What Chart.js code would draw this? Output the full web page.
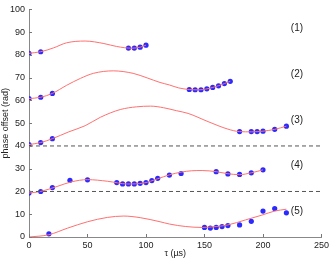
<!DOCTYPE html>
<html>
<head>
<meta charset="utf-8">
<script src="https://cdn.jsdelivr.net/npm/chart.js@4"></script>
<style>
  html, body { margin: 0; padding: 0; background: #fff; }
  #chart { display: block; }
</style>
</head>
<body>
<canvas id="chart" width="332" height="261"></canvas>
<script>
// measured points, one array pair per trace
const tau1 = [0, 10, 85, 90, 95, 100];
const phase1 = [80.7, 81.4, 83.0, 83.0, 83.4, 84.3];
const tau2 = [0, 10, 20, 137, 142, 147, 152, 157, 162, 167, 172];
const phase2 = [60.8, 61.4, 63.1, 64.8, 64.7, 64.7, 65.1, 65.7, 66.4, 67.4, 68.4];
const tau3 = [0, 10, 20, 180, 190, 195, 200, 210, 220];
const phase3 = [40.6, 41.5, 43.2, 46.3, 46.3, 46.3, 46.5, 47.3, 48.7];
const tau4 = [0, 10, 20, 35, 50, 75, 80, 85, 90, 95, 100, 105, 110, 120, 130, 160, 170, 180, 190, 200];
const phase4 = [19.3, 20.0, 21.7, 24.9, 25.1, 23.9, 23.3, 23.3, 23.3, 23.6, 23.9, 24.8, 25.8, 27.2, 27.9, 28.7, 27.7, 27.5, 28.2, 29.5];
const tau5 = [17, 150, 155, 160, 165, 170, 180, 190, 200, 210, 220];
const phase5 = [1.4, 4.2, 3.9, 4.2, 4.6, 5.0, 5.3, 6.9, 11.4, 12.5, 10.6];

// fitted curves
const fitTau1 = [0, 10, 21, 32, 48, 64, 75, 88, 95, 100];
const fitPhase1 = [80.7, 81.4, 83.1, 85.3, 86.1, 85.0, 83.7, 82.95, 83.4, 84.3];
const fitTau2 = [0, 10, 20, 32, 44, 55, 72, 89, 101, 112, 120, 128, 137, 145, 157, 167, 172];
const fitPhase2 = [60.8, 61.4, 63.1, 66.6, 69.7, 71.9, 73.0, 71.9, 69.9, 67.9, 66.8, 65.5, 64.8, 64.65, 65.7, 67.4, 68.4];
const fitTau3 = [0, 10, 20, 34, 48, 61, 78, 92, 104, 115, 126, 136, 153, 170, 180, 190, 200, 210, 220];
const fitPhase3 = [40.6, 41.5, 43.2, 46.2, 48.9, 52.6, 56.0, 57.2, 57.5, 56.8, 55.5, 54.3, 50.7, 47.4, 46.3, 46.2, 46.5, 47.3, 48.7];
const fitTau4 = [0, 10, 24, 36, 50, 67, 84, 98, 110, 120, 130, 139, 148, 160, 170, 180, 190, 200];
const fitPhase4 = [19.3, 20.0, 22.2, 24.2, 25.2, 24.5, 23.3, 23.7, 25.6, 27.3, 28.5, 29.1, 29.2, 28.7, 27.8, 27.4, 28.2, 29.5];
const fitTau5 = [0, 17, 33, 50, 67, 81, 95, 112, 120, 134, 148, 160, 170, 185, 199, 210, 220];
const fitPhase5 = [0, 1.0, 3.9, 6.7, 8.6, 9.2, 8.5, 6.7, 5.7, 4.6, 4.2, 4.6, 5.3, 7.5, 9.6, 11.4, 12.2];

const dashLevels = [40, 20];
const traceNames = ['(1)', '(2)', '(3)', '(4)', '(5)'];
const traceNameLevels = [91.5, 71.5, 51.5, 31.5, 11.5];

const xTicks = [0, 50, 100, 150, 200, 250];
const yTicks = [0, 10, 20, 30, 40, 50, 60, 70, 80, 90, 100];

const pts = (xs, ys) => xs.map((x, i) => ({ x: x, y: ys[i] }));

const fits = [[fitTau1, fitPhase1], [fitTau2, fitPhase2], [fitTau3, fitPhase3], [fitTau4, fitPhase4], [fitTau5, fitPhase5]];
const meas = [[tau1, phase1], [tau2, phase2], [tau3, phase3], [tau4, phase4], [tau5, phase5]];

const ds = [];
dashLevels.forEach(lv => {
    ds.push({
        data: [{ x: 0, y: lv }, { x: 250, y: lv }],
        showLine: true, pointRadius: 0,
        borderColor: '#555', borderWidth: 1, borderDash: [4, 3]
    });
});
fits.forEach(f => {
    ds.push({
        data: pts(f[0], f[1]),
        showLine: true, pointRadius: 0, cubicInterpolationMode: 'monotone',
        borderColor: '#ff7070', borderWidth: 1
    });
});
meas.forEach(m => {
    ds.push({
        data: pts(m[0], m[1]),
        showLine: false, pointRadius: 2.6,
        backgroundColor: '#2b2bff', borderColor: '#4a4aff', borderWidth: 0
    });
});

// small inward tick marks + trace names
const decor = {
    id: 'decor',
    afterDraw(chart) {
        const c = chart.ctx, xs = chart.scales.x, ys = chart.scales.y;
        const a = chart.chartArea;
        c.save();
        c.strokeStyle = '#777';
        c.lineWidth = 1;
        c.beginPath();
        yTicks.forEach(v => {
            const py = Math.round(ys.getPixelForValue(v)) + 0.5;
            c.moveTo(a.left, py); c.lineTo(a.left + 3, py);
        });
        xTicks.forEach(v => {
            const px = Math.round(xs.getPixelForValue(v)) + 0.5;
            c.moveTo(px, a.bottom); c.lineTo(px, a.bottom - 3);
        });
        c.stroke();
        c.fillStyle = '#222';
        c.font = '10px "Liberation Sans", Arial, sans-serif';
        c.textAlign = 'center';
        c.textBaseline = 'middle';
        traceNames.forEach((t, i) => {
            c.fillText(t, xs.getPixelForValue(229), ys.getPixelForValue(traceNameLevels[i]));
        });
        c.restore();
    }
};

const font = { family: '"Liberation Sans", Arial, sans-serif', size: 9 };

new Chart(document.getElementById('chart'), {
    type: 'scatter',
    data: { datasets: ds },
    options: {
        responsive: false,
        animation: false,
        devicePixelRatio: 1,
        layout: { padding: { left: 0, top: 6, right: 8, bottom: 0 } },
        plugins: { legend: { display: false }, tooltip: { enabled: false } },
        scales: {
            x: {
                type: 'linear', min: 0, max: 250,
                afterBuildTicks: s => { s.ticks = xTicks.map(v => ({ value: v })); },
                afterFit: s => { s.height = 24; },
                ticks: { font: font, color: '#222', padding: 3 },
                grid: { drawOnChartArea: false, drawTicks: false },
                border: { color: '#888', width: 1 },
                title: { display: true, text: 'τ (µs)', font: font, color: '#222', padding: { top: 0, bottom: 2 } }
            },
            y: {
                type: 'linear', min: 0, max: 100,
                afterBuildTicks: s => { s.ticks = yTicks.map(v => ({ value: v })); },
                afterFit: s => { s.width = 29; },
                ticks: { font: font, color: '#222', padding: 4 },
                grid: { drawOnChartArea: false, drawTicks: false },
                border: { color: '#888', width: 1 },
                title: { display: true, text: 'phase offset (rad)', font: font, color: '#222', padding: { top: 0, bottom: 1 } }
            }
        }
    },
    plugins: [decor]
});
</script>
</body>
</html>
